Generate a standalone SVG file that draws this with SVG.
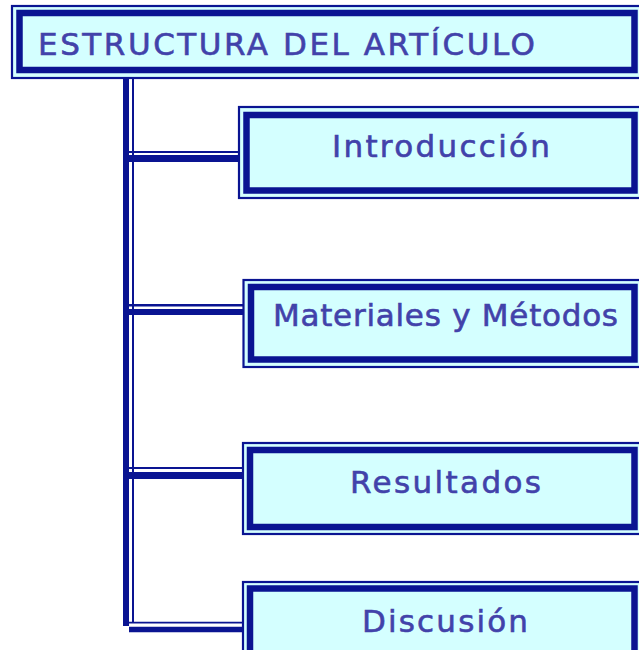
<svg xmlns="http://www.w3.org/2000/svg" width="639" height="650" viewBox="0 0 639 650">
<style>
.outer{fill:#d4ffff;stroke:#0a1492;stroke-width:2.2}
.inner{fill:#d4ffff;stroke:#0a1492;stroke-width:6.5}
.lbl{font-family:"DejaVu Sans","Liberation Sans",Arial,sans-serif;font-size:31px;fill:#4242aa;stroke:#4242aa;stroke-width:0.6}
.c{stroke:#0a1492;fill:none}
</style>
<rect width="639" height="650" fill="#ffffff"/>
<g id="connectors">
  <line class="c" x1="126" y1="76" x2="126" y2="626" stroke-width="6"/>
  <line class="c" x1="133" y1="76" x2="133" y2="623" stroke-width="2"/>
  <line class="c" x1="129" y1="152" x2="240" y2="152" stroke-width="2"/>
  <line class="c" x1="126" y1="158.5" x2="240" y2="158.5" stroke-width="7"/>
  <line class="c" x1="129" y1="305.3" x2="244" y2="305.3" stroke-width="2.4"/>
  <line class="c" x1="126" y1="312" x2="244" y2="312" stroke-width="6"/>
  <line class="c" x1="129" y1="468" x2="243" y2="468" stroke-width="2"/>
  <line class="c" x1="126" y1="475.5" x2="243" y2="475.5" stroke-width="7"/>
  <line class="c" x1="129" y1="622.7" x2="243" y2="622.7" stroke-width="1.8"/>
  <line class="c" x1="129" y1="629.5" x2="243" y2="629.5" stroke-width="5.5"/>
</g>
<g id="title">
  <rect class="outer" x="12" y="6" width="630" height="72"/>
  <rect class="inner" x="19.5" y="13" width="615" height="57"/>
  <text class="lbl" x="38" y="55" font-size="32" textLength="497" lengthAdjust="spacing">ESTRUCTURA DEL ARTÍCULO</text>
</g>
<g id="introduccion">
  <rect class="outer" x="239" y="107" width="404" height="91"/>
  <rect class="inner" x="246.5" y="115" width="388" height="75.5"/>
  <text class="lbl" x="332" y="157" font-size="32" textLength="218" lengthAdjust="spacing">Introducción</text>
</g>
<g id="materiales">
  <rect class="outer" x="243.5" y="280" width="400" height="87"/>
  <rect class="inner" x="251" y="287" width="383.5" height="72.5"/>
  <text class="lbl" x="273" y="326" font-size="29.5" textLength="345" lengthAdjust="spacing">Materiales y Métodos</text>
</g>
<g id="resultados">
  <rect class="outer" x="243" y="443" width="400" height="91"/>
  <rect class="inner" x="250" y="450" width="384.5" height="77"/>
  <text class="lbl" x="350" y="493" textLength="191" lengthAdjust="spacing">Resultados</text>
</g>
<g id="discusion">
  <rect class="outer" x="243" y="582" width="400" height="80"/>
  <rect class="inner" x="250" y="588.5" width="384.5" height="70"/>
  <text class="lbl" x="362" y="632" textLength="166" lengthAdjust="spacing">Discusión</text>
</g>
</svg>
